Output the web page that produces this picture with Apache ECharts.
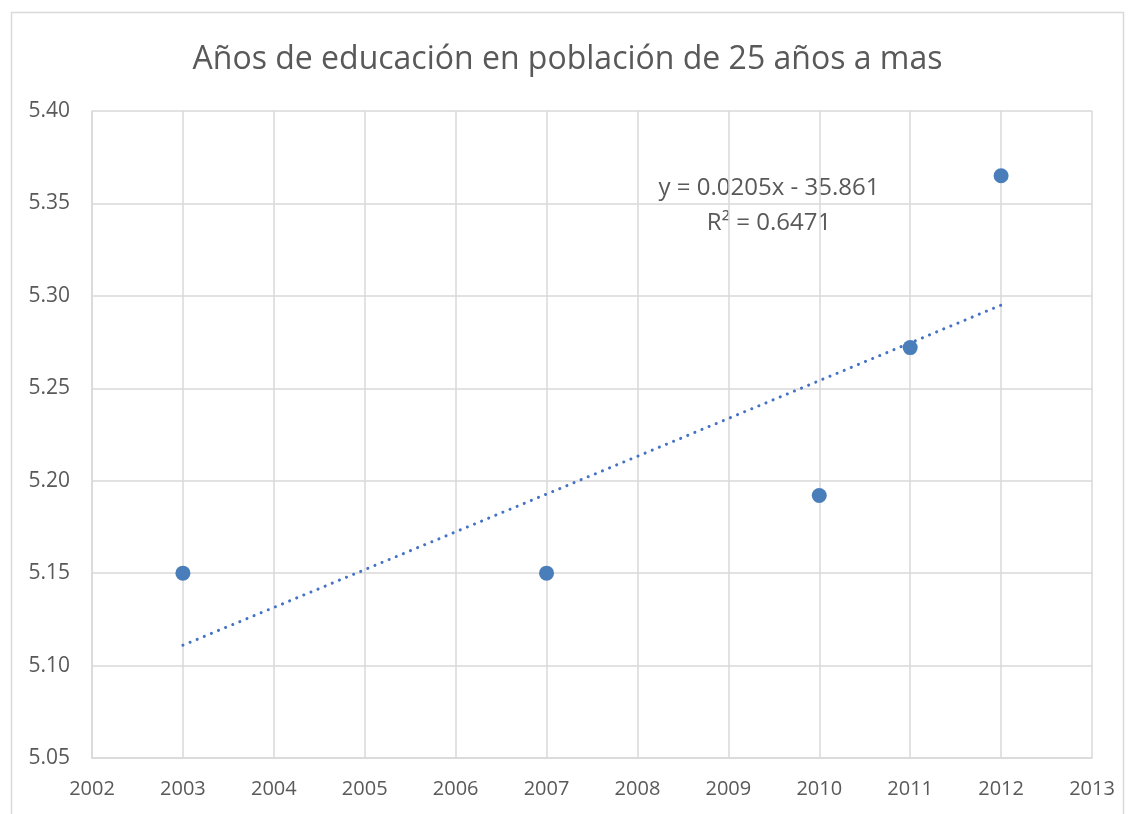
<!DOCTYPE html>
<html><head><meta charset="utf-8">
<script src="https://cdn.jsdelivr.net/npm/echarts@6/dist/echarts.min.js"></script>
<style>html,body{margin:0;padding:0;background:#fff}#c{width:1135px;height:814px}</style>
</head><body><div id="c"></div>
<script>
const years = [2003, 2007, 2010, 2011, 2012];
const values = [5.150, 5.150, 5.192, 5.272, 5.365];
const trendYears = [2003, 2012];
const trendValues = [5.111, 5.295];
const titleText = 'Años de educación en población de 25 años a mas';
const equationText = 'y = 0.0205x - 35.861';
const r2Text = 'R² = 0.6471';

const chart = echarts.init(document.getElementById('c'));
const font = '"Open Sans", "Noto Sans", sans-serif';
const gray = '#595959';
const gridColor = '#d9d9d9';
chart.setOption({
  animation: false,
  textStyle: {fontFamily: font},
  title: {text: titleText, left: 'center', top: 39,
    textStyle: {fontFamily: font, fontSize: 32, fontWeight: 'normal', color: gray}},
  graphic: [
    {type: 'rect', shape: {x: 11.5, y: 12.5, width: 1112, height: 820}, style: {fill: 'none', stroke: gridColor, lineWidth: 1.5}, z: -1},
    {type: 'text', x: 769, y: 188, style: {text: equationText, font: '24px ' + font, fill: gray, align: 'center', verticalAlign: 'middle'}},
    {type: 'text', x: 769, y: 223, style: {text: r2Text, font: '24px ' + font, fill: gray, align: 'center', verticalAlign: 'middle'}}
  ],
  grid: {left: 92, right: 43, top: 111, bottom: 56, containLabel: false},
  xAxis: {type: 'value', min: 2002, max: 2013, interval: 1,
    axisLine: {show: true, lineStyle: {color: gridColor, width: 1.5}},
    axisTick: {show: false},
    axisLabel: {formatter: v => String(v), color: gray, fontSize: 20, margin: 21, fontFamily: font},
    splitLine: {show: true, lineStyle: {color: gridColor, width: 1.5}}},
  yAxis: {type: 'value', min: 5.05, max: 5.40, interval: 0.05,
    axisLine: {show: true, lineStyle: {color: gridColor, width: 1.5}},
    axisTick: {show: false},
    axisLabel: {formatter: v => v.toFixed(2), color: gray, fontSize: 21, margin: 22, fontFamily: font},
    splitLine: {show: true, lineStyle: {color: gridColor, width: 1.5}}},
  series: [
    {type: 'line', data: trendYears.map((y, i) => [y, trendValues[i]]), symbol: 'none',
      lineStyle: {color: '#4472c4', width: 3, type: [0.1, 7.6], cap: 'round'}, z: 2},
    {type: 'scatter', data: years.map((y, i) => [y, values[i]]), symbolSize: 15,
      itemStyle: {color: '#4a7ebb', opacity: 1}, z: 3}
  ]
});
</script></body></html>
